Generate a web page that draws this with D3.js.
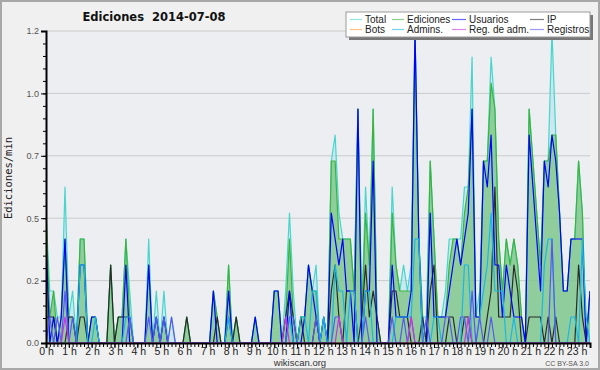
<!DOCTYPE html>
<html>
<head>
<meta charset="utf-8">
<script src="https://cdn.jsdelivr.net/npm/d3@7"></script>
<style>
  body { margin: 0; background: #f0f0f0; }
  svg { display: block; }
</style>
</head>
<body>
<div id="chart"></div>
<script>
// edits per minute, 10 minute bins (144 per day)
var xTickLabels = ["0 h","1 h","2 h","3 h","4 h","5 h","6 h","7 h","8 h","9 h","10 h","11 h",
                   "12 h","13 h","14 h","15 h","16 h","17 h","18 h","19 h","20 h","21 h","22 h","23 h"];
var yTickValues = [0, 0.24, 0.48, 0.72, 0.96, 1.2];
var yTickLabels = ["0.0", "0.2", "0.5", "0.7", "1.0", "1.2"];

var total = [
  0.5,0.2,0.2,0.1,0.1,0.6,0.1,0.2,0,0.4,0.4,0,
  0.1,0.1,0,0,0,0.3,0,0.1,0.1,0.4,0.2,0,
  0,0,0,0.4,0,0.2,0,0.2,0,0.1,0,0,
  0,0.1,0,0,0,0,0,0,0.2,0.1,0,0,
  0.3,0,0.1,0,0,0,0,0.1,0,0,0,0,
  0.2,0.2,0,0.2,0.5,0.2,0,0.1,0.1,0.3,0.2,0.3,
  0,0.1,0,0.7,0.8,0.5,0.4,0.4,0.4,0.2,0.9,0.1,
  0.6,0.3,0.9,0.1,0,0,0,0.6,0.3,0.2,0.3,0.2,
  0.3,1.2,0.4,0.1,0.1,0.7,0.4,0.1,0.1,0.2,0.4,0.4,
  0.4,0.4,0.6,0.6,1.1,0.1,0.2,0.7,0.7,1.1,0.9,0.4,
  0.2,0.4,0.3,0.4,0.3,0.1,0,0.9,0.7,0.5,0.3,0.7,
  0.7,1.2,0.8,0.5,0.2,0.2,0.4,0.4,0.7,0.5,0,0.2
];
var ediciones = [
  0.5,0.1,0.2,0,0.1,0.4,0.1,0.1,0,0.4,0.4,0,
  0.1,0.1,0,0,0,0.3,0,0.1,0.1,0.4,0.1,0,
  0,0,0,0.3,0,0.1,0,0.1,0,0,0,0,
  0,0.1,0,0,0,0,0,0,0.2,0.1,0,0,
  0.3,0,0.1,0,0,0,0,0.1,0,0,0,0,
  0.2,0.2,0,0.1,0.4,0.1,0,0.1,0.1,0.3,0.2,0.2,
  0,0.1,0,0.7,0.7,0.4,0.4,0.4,0.4,0.2,0.9,0.1,
  0.5,0.3,0.9,0.1,0,0,0,0.5,0.3,0.2,0.2,0.2,
  0.2,1.2,0.4,0.1,0,0.7,0.4,0.1,0.1,0.1,0.3,0.4,
  0.4,0.3,0.5,0.6,0.9,0.1,0.1,0.7,0.7,1.0,0.9,0.4,
  0.2,0.4,0.3,0.4,0.3,0.1,0,0.9,0.7,0.5,0.3,0.7,
  0.7,0.8,0.8,0.5,0.2,0.2,0.4,0.4,0.7,0.5,0,0.2
];
var usuarios = [
  0.4,0,0.1,0,0.1,0.4,0,0,0,0.3,0.3,0,
  0.1,0.1,0,0,0,0,0,0,0,0.3,0,0,
  0,0,0,0.3,0,0.1,0,0.1,0,0,0,0,
  0,0,0,0,0,0,0,0,0.2,0,0,0,
  0.2,0,0,0,0,0,0,0.1,0,0,0,0,
  0.2,0.2,0,0,0.2,0,0,0,0.1,0.3,0.2,0.1,
  0,0.1,0,0.5,0.4,0.3,0.4,0.2,0.2,0,0.9,0,
  0.2,0.2,0.7,0,0,0,0,0.3,0.1,0.1,0.1,0.1,
  0.2,1.2,0.4,0,0,0.5,0.1,0.1,0.1,0.1,0.2,0.3,
  0.4,0.3,0.4,0.5,0.9,0.1,0.1,0.7,0.6,0.8,0.3,0.3,
  0.1,0.3,0.2,0.1,0.1,0.1,0,0.8,0.6,0.4,0.2,0.7,
  0.6,0.8,0.7,0.5,0.2,0.2,0.4,0.4,0.4,0.4,0,0.2
];
var ip = [
  0.1,0.1,0.1,0,0,0,0.1,0.1,0,0.1,0.1,0,
  0,0,0,0,0,0.3,0,0.1,0.1,0.1,0.1,0,
  0,0,0,0,0,0,0,0,0,0,0,0,
  0,0.1,0,0,0,0,0,0,0,0.1,0,0,
  0.1,0,0.1,0,0,0,0,0,0,0,0,0,
  0,0,0,0.1,0.2,0.1,0,0.1,0,0,0,0.1,
  0,0,0,0.2,0.3,0.1,0,0.2,0.2,0.2,0,0.1,
  0.3,0.1,0.2,0.1,0,0,0,0.2,0.2,0.1,0.1,0.1,
  0,0,0,0.1,0,0.2,0.3,0,0,0,0.1,0.1,
  0,0,0.1,0.1,0,0,0,0,0.1,0.2,0.6,0.1,
  0.1,0.1,0.1,0.3,0.2,0,0,0.1,0.1,0.1,0.1,0,
  0.1,0,0.1,0,0,0,0,0,0.3,0.1,0,0
];
var bots = [
  0,0,0,0,0,0,0,0,0,0,0,0, 0,0,0,0,0,0,0,0,0,0,0,0,
  0,0,0,0,0,0,0,0,0,0,0,0, 0,0,0,0,0,0,0,0,0,0,0,0,
  0,0,0,0,0,0,0,0,0,0,0,0, 0,0,0,0,0,0,0,0,0,0,0,0,
  0,0,0,0,0,0,0,0,0,0,0,0, 0,0,0,0,0,0,0,0,0,0,0,0,
  0,0,0,0,0,0,0,0,0,0,0,0, 0,0,0,0,0,0,0,0,0,0,0,0,
  0,0,0,0,0,0,0,0,0,0,0,0, 0,0,0,0,0,0,0,0,0,0,0,0
];
var admins = [
  0,0,0,0,0,0,0,0,0,0.3,0.3,0,
  0,0.1,0,0,0,0,0,0,0,0.1,0.1,0,
  0,0,0,0,0,0,0,0,0,0,0,0,
  0,0,0,0,0,0,0,0,0,0,0,0,
  0.1,0,0,0,0,0,0,0,0,0,0,0,
  0,0,0,0,0.1,0,0,0.1,0.1,0,0.2,0.2,
  0,0.1,0,0,0.3,0.2,0.2,0,0.2,0.2,0,0,
  0.2,0.2,0,0,0,0,0,0,0.1,0.1,0.1,0.1,
  0.1,0.4,0.4,0,0,0,0.1,0.1,0,0,0,0,
  0,0,0.3,0.3,0,0,0.1,0.2,0.3,0.5,0.2,0.2,
  0.2,0,0,0.1,0,0,0,0,0,0,0,0.3,
  0.4,0.4,0,0,0,0,0.1,0.1,0,0.4,0.1,0
];
var regAdm = [
  0,0,0,0,0,0.1,0,0,0,0,0,0,
  0,0,0,0,0,0,0,0,0,0,0,0,
  0,0,0,0,0,0,0,0,0,0,0,0,
  0,0,0,0,0,0,0,0,0,0,0,0,
  0,0,0,0,0,0,0,0,0,0,0,0,
  0,0,0,0.1,0,0,0,0,0,0,0,0,
  0,0,0,0,0,0.1,0,0,0,0,0,0,
  0,0,0,0,0,0,0,0,0,0,0,0,
  0.1,0,0,0,0,0,0,0,0,0,0,0,
  0,0,0,0.1,0,0,0,0,0,0,0,0,
  0,0,0,0,0,0,0,0,0,0,0,0,
  0,0,0,0,0,0,0,0,0,0,0,0
];
var registros = [
  0,0.1,0,0.1,0,0.2,0,0.1,0,0,0,0,
  0,0,0,0,0,0,0,0,0,0,0.1,0,
  0,0,0,0.1,0,0.1,0,0.1,0,0.1,0,0,
  0,0,0,0,0,0,0,0,0,0,0,0,
  0,0,0,0,0,0,0,0,0,0,0,0,
  0,0,0,0,0.1,0.1,0,0,0,0,0,0.1,
  0,0,0,0,0.1,0.1,0,0,0,0,0,0,
  0.1,0,0,0,0,0,0,0.1,0,0,0.1,0,
  0.1,0,0,0,0.1,0,0,0,0,0.1,0.1,0,
  0,0.1,0.1,0,0.2,0,0.1,0,0,0.1,0,0,
  0,0,0,0,0,0,0,0,0,0,0,0,
  0,0.4,0,0,0,0,0,0,0,0,0,0
];

var series = [
  { name: "Total", values: total, color: "#46d6cc" },
  { name: "Ediciones", values: ediciones, color: "#3cb43c" },
  { name: "Usuarios", values: usuarios, color: "#0000ff" },
  { name: "IP", values: ip, color: "#2a2a2a" },
  { name: "Bots", values: bots, color: "#ff9933" },
  { name: "Admins.", values: admins, color: "#18b8e6" },
  { name: "Reg. de adm.", values: regAdm, color: "#cc33dd" },
  { name: "Registros", values: registros, color: "#5858f0" }
];

var width = 600, height = 370;
var plotLeft = 46, plotRight = 590, plotTop = 31, plotBottom = 343;

var svg = d3.select("#chart")
    .append("svg")
    .attr("width", width)
    .attr("height", height);

// background + frame
svg.append("rect")
    .attr("x", 1).attr("y", 1)
    .attr("width", width - 2).attr("height", height - 2)
    .attr("fill", "#f0f0f0")
    .attr("stroke", "#a8a8a8")
    .attr("stroke-width", 2);

svg.append("rect")
    .attr("x", plotLeft).attr("y", plotTop)
    .attr("width", plotRight - plotLeft).attr("height", plotBottom - plotTop)
    .attr("fill", "#eceef1");

var x = d3.scaleLinear().domain([0, 143]).range([plotLeft, plotRight]);
var y = d3.scaleLinear().domain([0, 1.2]).range([plotBottom, plotTop]);

// grid lines
svg.append("g")
    .selectAll("line")
    .data(yTickValues.slice(1))
    .enter()
    .append("line")
    .attr("x1", plotLeft).attr("x2", plotRight)
    .attr("y1", function (d) { return y(d); })
    .attr("y2", function (d) { return y(d); })
    .attr("stroke", "#cbcbcb")
    .attr("stroke-width", 1);

svg.append("clipPath").attr("id", "plot")
    .append("rect")
    .attr("x", plotLeft).attr("y", plotTop - 2)
    .attr("width", plotRight - plotLeft).attr("height", plotBottom - plotTop + 2);

var plot = svg.append("g").attr("clip-path", "url(#plot)");

var area = d3.area()
    .x(function (d, i) { return x(i); })
    .y0(y(0))
    .y1(function (d) { return y(d); });
var line = d3.line()
    .x(function (d, i) { return x(i); })
    .y(function (d) { return y(d); });

// filled areas for total and edits
plot.append("path").datum(total)
    .attr("d", area)
    .attr("fill", "#b4e2f0")
    .attr("fill-opacity", 0.55);
plot.append("path").datum(ediciones)
    .attr("d", area)
    .attr("fill", "#6fbf6f")
    .attr("fill-opacity", 0.65);

// lines, drawn in this order
var order = ["Total", "Ediciones", "IP", "Usuarios", "Bots", "Admins.", "Registros", "Reg. de adm."];
order.forEach(function (name) {
    var s = series.find(function (d) { return d.name == name; });
    plot.append("path").datum(s.values)
        .attr("d", line)
        .attr("fill", "none")
        .attr("stroke", s.color)
        .attr("stroke-width", 1.2)
        .attr("stroke-linejoin", "round");
});

// y axis, major and minor ticks
svg.append("g")
    .attr("transform", "translate(" + plotLeft + ",0)")
    .call(d3.axisLeft(y).tickValues(d3.range(0, 1.2001, 0.048)).tickSize(3).tickFormat(""))
    .call(function (g) { g.select(".domain").remove(); });
var yAxis = svg.append("g")
    .attr("transform", "translate(" + plotLeft + ",0)")
    .call(d3.axisLeft(y).tickValues(yTickValues).tickSize(5).tickPadding(2)
        .tickFormat(function (d, i) { return yTickLabels[i]; }));
yAxis.select(".domain").attr("stroke-width", 2);
yAxis.selectAll("text")
    .attr("font-family", "Liberation Sans, Arial, sans-serif")
    .attr("font-size", 9)
    .attr("fill", "#555");

// x axis, a tick every 10 minutes and labels every hour
var hourBins = d3.range(0, 144, 6);
svg.append("g")
    .attr("transform", "translate(0," + plotBottom + ")")
    .call(d3.axisBottom(x).tickValues(d3.range(0, 144)).tickSize(4).tickFormat(""))
    .call(function (g) { g.select(".domain").remove(); });
var xAxis = svg.append("g")
    .attr("transform", "translate(0," + plotBottom + ")")
    .call(d3.axisBottom(x).tickValues(hourBins).tickSize(5).tickPadding(0)
        .tickFormat(function (d, i) { return xTickLabels[i]; }));
xAxis.select(".domain").attr("stroke-width", 2);
xAxis.selectAll("text")
    .attr("x", function (d) { return d * 0.04; })
    .attr("font-family", "Liberation Sans Narrow, Liberation Sans, Arial, sans-serif")
    .attr("font-size", 10.5)
    .attr("fill", "#222");

// titles
svg.append("text")
    .attr("x", 154).attr("y", 21)
    .attr("text-anchor", "middle")
    .attr("font-family", "DejaVu Sans, sans-serif")
    .attr("font-weight", "bold")
    .attr("font-size", 11.5)
    .attr("fill", "#111")
    .style("white-space", "pre")
    .text("Ediciones  2014-07-08");

svg.append("text")
    .attr("transform", "translate(12,178)rotate(-90)")
    .attr("text-anchor", "middle")
    .attr("font-family", "DejaVu Sans Mono, monospace")
    .attr("font-size", 10.5)
    .attr("fill", "#222")
    .text("Ediciones/min");

svg.append("text")
    .attr("x", 300).attr("y", 366)
    .attr("text-anchor", "middle")
    .attr("font-family", "Liberation Sans, Arial, sans-serif")
    .attr("font-size", 9.5)
    .attr("fill", "#333")
    .text("wikiscan.org");

svg.append("text")
    .attr("x", 589).attr("y", 366)
    .attr("text-anchor", "end")
    .attr("font-family", "Liberation Sans, Arial, sans-serif")
    .attr("font-size", 7)
    .attr("fill", "#555")
    .text("CC BY-SA 3.0");

// legend
var legend = svg.append("g");
legend.append("rect")
    .attr("x", 349).attr("y", 15).attr("width", 244).attr("height", 25)
    .attr("fill", "#777");
legend.append("rect")
    .attr("x", 346).attr("y", 12).attr("width", 244).attr("height", 25)
    .attr("fill", "#ffffff")
    .attr("stroke", "#999")
    .attr("stroke-width", 1);

var colX = [350, 392, 452, 530];
var rowY = [19.5, 29.5];
var legendOrder = ["Total", "Ediciones", "Usuarios", "IP", "Bots", "Admins.", "Reg. de adm.", "Registros"];
legendOrder.forEach(function (name, i) {
    var s = series.find(function (d) { return d.name == name; });
    var cx = colX[i % 4], cy = rowY[Math.floor(i / 4)];
    var w = (i % 4 >= 2) ? 14 : 12;
    legend.append("line")
        .attr("x1", cx).attr("x2", cx + w)
        .attr("y1", cy).attr("y2", cy)
        .attr("stroke", s.color)
        .attr("stroke-opacity", 0.6)
        .attr("stroke-width", 1.2);
    legend.append("text")
        .attr("x", cx + w + 3).attr("y", cy + 3.5)
        .attr("font-family", "Liberation Sans, Arial, sans-serif")
        .attr("font-size", 10)
        .attr("fill", "#222")
        .text(name);
});
</script>
</body>
</html>
